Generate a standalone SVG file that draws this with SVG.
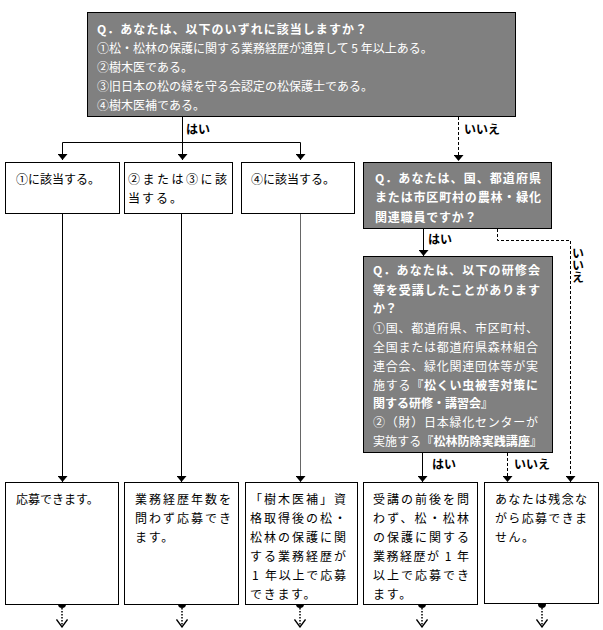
<svg xmlns="http://www.w3.org/2000/svg" width="603" height="630" viewBox="0 0 603 630">
<style>
.box{fill:#fff;stroke:#000;stroke-width:1}
.q{fill:#808080;stroke:#000;stroke-width:1}
.t{font-family:"Noto Sans CJK JP","Noto Sans CJK SC",sans-serif;font-size:12px;fill:#000}
.w{fill:#fff}
.b{font-weight:bold}
.ln{stroke:#000;stroke-width:1;fill:none}
.dash{stroke-dasharray:3,2}
.dot{stroke:#000;stroke-width:1.5;fill:none;stroke-dasharray:1.5,1.5}
.arrow{marker-end:url(#ah)}
</style>
<defs>
<marker id="ah" viewBox="0 0 6 10" refX="6" refY="5" markerWidth="6" markerHeight="10" markerUnits="userSpaceOnUse" orient="auto">
<path d="M0,0 L6,5 L0,10 z" fill="#000"/>
</marker>
<marker id="vh" viewBox="0 0 9 12" refX="8" refY="6" markerWidth="9" markerHeight="12" markerUnits="userSpaceOnUse" orient="auto">
<path d="M0.5,0.5 L8,6 L0.5,11.5" fill="none" stroke="#000" stroke-width="1.3"/>
</marker>
</defs>
<rect width="603" height="630" fill="#fff"/>

<g id="connectors">
<path class="ln arrow" d="M182.5,116 V160"/>
<path class="ln" d="M62.5,142.5 H300.5"/>
<path class="ln arrow" d="M62.5,142.5 V160"/>
<path class="ln arrow" d="M300.5,142.5 V160"/>
<text class="t b" x="186" y="133.5">はい</text>
<path class="ln dash arrow" d="M458.5,117 V161"/>
<text class="t b" x="464" y="133.5">いいえ</text>
<path class="ln arrow" d="M423.5,229 V256"/>
<text class="t b" x="428" y="243.5">はい</text>
<path class="ln dash arrow" d="M497.5,229 V240.5 H570.5 V482"/>
<text class="t b" x="578" y="247" writing-mode="vertical-rl">いいえ</text>
<path class="ln arrow" d="M422.5,453 V482"/>
<text class="t b" x="432" y="468.5">はい</text>
<path class="ln dash arrow" d="M507.5,453 V482"/>
<text class="t b" x="514" y="468.5">いいえ</text>
<path class="ln arrow" d="M62.5,214 V482"/>
<path class="ln arrow" d="M181.5,214 V482"/>
<path class="ln arrow" d="M300.5,214 V482" style="stroke:#666"/>
<g fill="#000">
<circle cx="62" cy="604" r="4"/>
<circle cx="182" cy="604" r="4"/>
<circle cx="300" cy="604" r="4"/>
<circle cx="422" cy="604" r="4"/>
<circle cx="542" cy="604" r="4"/>
</g>
<path class="dot" d="M62,608 V627" marker-end="url(#vh)"/>
<path class="dot" d="M182,608 V627" marker-end="url(#vh)"/>
<path class="dot" d="M300,608 V627" marker-end="url(#vh)"/>
<path class="dot" d="M422,608 V627" marker-end="url(#vh)"/>
<path class="dot" d="M542,608 V627" marker-end="url(#vh)"/>
</g>

<g id="q1">
<rect class="q" x="87.5" y="12.5" width="428" height="104"/>
<text class="t w b" x="97" y="34" textLength="270" lengthAdjust="spacing">Q．あなたは、以下のいずれに該当しますか？</text>
<text class="t w" x="97" y="53">①松・松林の保護に関する業務経歴が通算して 5 年以上ある。</text>
<text class="t w" x="97" y="72">②樹木医である。</text>
<text class="t w" x="97" y="91">③旧日本の松の緑を守る会認定の松保護士である。</text>
<text class="t w" x="97" y="110">④樹木医補である。</text>
</g>

<g id="r1">
<rect class="box" x="5.5" y="162.5" width="114" height="51"/>
<text class="t" x="16" y="184">①に該当する。</text>
</g>
<g id="r2">
<rect class="box" x="124.5" y="162.5" width="108" height="51"/>
<text class="t" x="128" y="184" textLength="99" lengthAdjust="spacing">②または③に該</text>
<text class="t" x="128" y="203" style="letter-spacing:2px">当する。</text>
</g>
<g id="r3">
<rect class="box" x="241.5" y="162.5" width="113" height="51"/>
<text class="t" x="251" y="184">④に該当する。</text>
</g>

<g id="q2">
<rect class="q" x="363.5" y="162.5" width="188" height="66"/>
<text class="t w b" x="375" y="183" textLength="166" lengthAdjust="spacing">Q．あなたは、国、都道府県</text>
<text class="t w b" x="375" y="202" textLength="166" lengthAdjust="spacing">または市区町村の農林・緑化</text>
<text class="t w b" x="375" y="221.5" style="letter-spacing:0.8px">関連職員ですか？</text>
</g>

<g id="q3">
<rect class="q" x="363.5" y="256.5" width="189" height="196"/>
<text class="t w b" x="373" y="275" textLength="167" lengthAdjust="spacing">Q．あなたは、以下の研修会</text>
<text class="t w b" x="373" y="294.5" textLength="167" lengthAdjust="spacing">等を受講したことがあります</text>
<text class="t w b" x="373" y="313">か？</text>
<text class="t w" x="373" y="332.5" textLength="165" lengthAdjust="spacing">①国、都道府県、市区町村、</text>
<text class="t w" x="373" y="351.5" textLength="165" lengthAdjust="spacing">全国または都道府県森林組合</text>
<text class="t w" x="373" y="370.5" textLength="165" lengthAdjust="spacing">連合会、緑化関連団体等が実</text>
<text class="t w" x="373" y="389.5" textLength="165" lengthAdjust="spacing">施する<tspan class="b">『松くい虫被害対策に</tspan></text>
<text class="t w b" x="373" y="408">関する研修・講習会』</text>
<text class="t w" x="373" y="427" textLength="165" lengthAdjust="spacing">②（財）日本緑化センターが</text>
<text class="t w" x="373" y="446" textLength="169" lengthAdjust="spacing">実施する<tspan class="b">『松林防除実践講座』</tspan></text>
</g>

<g id="b1">
<rect class="box" x="5.5" y="482.5" width="113" height="122"/>
<text class="t" x="16" y="504">応募できます。</text>
</g>
<g id="b2">
<rect class="box" x="124.5" y="482.5" width="114" height="122"/>
<text class="t" x="135" y="504" textLength="96" lengthAdjust="spacing">業務経歴年数を</text>
<text class="t" x="135" y="523" textLength="96" lengthAdjust="spacing">問わず応募でき</text>
<text class="t" x="135" y="542" style="letter-spacing:1.7px">ます。</text>
</g>
<g id="b3">
<rect class="box" x="245.5" y="482.5" width="112" height="122"/>
<text class="t" x="250" y="504" textLength="96" lengthAdjust="spacing">「樹木医補」資</text>
<text class="t" x="250" y="523" textLength="96" lengthAdjust="spacing">格取得後の松・</text>
<text class="t" x="250" y="542" textLength="96" lengthAdjust="spacing">松林の保護に関</text>
<text class="t" x="250" y="561" textLength="96" lengthAdjust="spacing">する業務経歴が</text>
<text class="t" x="252" y="580" textLength="94" lengthAdjust="spacing">1 年以上で応募</text>
<text class="t" x="250" y="599" style="letter-spacing:1.7px">できます。</text>
</g>
<g id="b4">
<rect class="box" x="363.5" y="482.5" width="114" height="122"/>
<text class="t" x="373" y="504" textLength="96" lengthAdjust="spacing">受講の前後を問</text>
<text class="t" x="373" y="523" textLength="96" lengthAdjust="spacing">わず、松・松林</text>
<text class="t" x="373" y="542" textLength="96" lengthAdjust="spacing">の保護に関する</text>
<text class="t" x="373" y="561" textLength="96" lengthAdjust="spacing">業務経歴が 1 年</text>
<text class="t" x="373" y="580" textLength="96" lengthAdjust="spacing">以上で応募でき</text>
<text class="t" x="373" y="599" style="letter-spacing:1.7px">ます。</text>
</g>
<g id="b5">
<rect class="box" x="484.5" y="482.5" width="114" height="121"/>
<text class="t" x="495" y="504" textLength="92" lengthAdjust="spacing">あなたは残念な</text>
<text class="t" x="495" y="523" textLength="92" lengthAdjust="spacing">がら応募できま</text>
<text class="t" x="495" y="542" style="letter-spacing:1.5px">せん。</text>
</g>
</svg>
